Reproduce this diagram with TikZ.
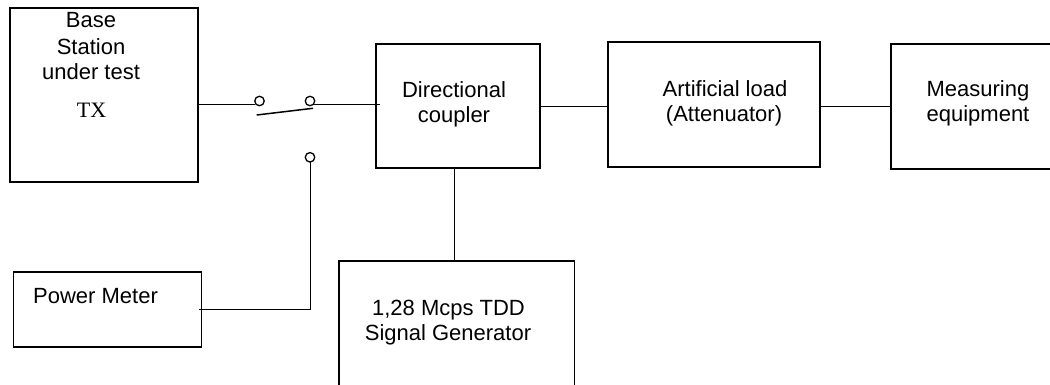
\documentclass[tikz,border=0pt]{standalone}
\usepackage{fontspec}
\setmainfont{Liberation Sans}
\newfontfamily\txfont{Liberation Serif}
\begin{document}
\begin{tikzpicture}[x=1pt,y=-1pt,
  box/.style={draw=black,line width=1.7pt,rectangle,inner sep=0pt,outer sep=0pt},
  wire/.style={draw=black,line width=1.5pt},
  contact/.style={draw=black,line width=1.3pt,circle,fill=white,minimum size=9.5pt,inner sep=0pt},
  lbl/.style={font=\fontsize{22}{25}\selectfont,inner sep=0pt,anchor=base}]
\useasboundingbox (0,0) rectangle (1050,385);
\clip (0,0) rectangle (1050,385);
% boxes
\node[box,minimum width=188pt,minimum height=174pt] (bs) at (104,95.3) {};
\node[box,minimum width=188pt,minimum height=74.5pt] (pm) at (107.5,309.5) {};
\node[box,minimum width=164.5pt,minimum height=124pt] (dc) at (458,106.2) {};
\node[box,minimum width=211.5pt,minimum height=124.7pt] (at) at (714,104.4) {};
\node[box,minimum width=300pt,minimum height=125pt] (me) at (1041,106.5) {};
\node[box,minimum width=235.3pt,minimum height=125pt] (sg) at (456.7,323.2) {};
% texts
\node[lbl] (t1) at (91,28) {Base};
\node[lbl] (t2) at (91,54.5) {Station};
\node[lbl] (t3) at (91,80) {under test};
\node[lbl,font=\txfont\fontsize{22}{25}\selectfont] (t4) at (91.5,118) {TX};
\node[lbl] (t5) at (454,98) {Directional};
\node[lbl] (t6) at (454,123) {coupler};
\node[lbl] (t7) at (725,97) {Artificial load};
\node[lbl] (t8) at (724,122) {(Attenuator)};
\node[lbl] (t9) at (978,97) {Measuring};
\node[lbl] (t10) at (978,122) {equipment};
\node[lbl] (t11) at (448.5,315) {1,28 Mcps TDD};
\node[lbl] (t12) at (448,340) {Signal Generator};
\node[lbl,anchor=base west] (t13) at (33,303) {Power Meter};
% switch contacts
\coordinate (w1) at (255,104.3);
\coordinate (w2) at (313.5,104.3);
\coordinate (w3) at (379.5,104.3);
\coordinate (b1) at (256.7,115);
\coordinate (b2) at (313,108.3);
\coordinate (v1) at (310.5,161.5);
\coordinate (v2) at (310.5,309.5);
\coordinate (dcb) at (454.3,168);
\coordinate (pmw) at (199,309.5);
% wires
\draw[wire] (bs.east |- w1) -- (w1);
\draw[wire] (w2) -- (w3);
\draw[wire] (b1) -- (b2);
\draw[wire] (v1) -- (v2);
\draw[wire] (pmw) -- (v2);
\draw[wire] (dc.east |- 0,106.7) -- (at.west |- 0,106.7);
\draw[wire] (at.east |- 0,106.7) -- (me.west |- 0,106.7);
\draw[wire] (dcb) -- (dcb |- sg.north);
\node[contact] (k1) at (259.5,101) {};
\node[contact] (k2) at (310,101) {};
\node[contact] (k3) at (310,157.3) {};
\end{tikzpicture}
\end{document}
